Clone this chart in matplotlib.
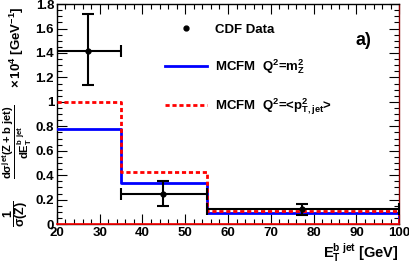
import matplotlib
matplotlib.use("Agg")
import matplotlib.pyplot as plt
import numpy as np
from matplotlib.ticker import MultipleLocator
from matplotlib.lines import Line2D

plt.rcParams['font.family'] = ['Liberation Sans']
plt.rcParams['font.weight'] = 'bold'
plt.rcParams['mathtext.fontset'] = 'custom'
plt.rcParams['mathtext.rm'] = 'Liberation Sans:bold'
plt.rcParams['mathtext.it'] = 'Liberation Sans:bold'
plt.rcParams['mathtext.bf'] = 'Liberation Sans:bold'
plt.rcParams['mathtext.sf'] = 'Liberation Sans:bold'

bin_edges = [20, 35, 55, 100]
data_x = [27.3, 44.8, 77.3]
data_y = [1.42, 0.25, 0.123]
data_err_lo = [0.28, 0.105, 0.046]
data_err_hi = [0.30, 0.10, 0.044]
mcfm_mz = [0.78, 0.335, 0.09]
mcfm_pt = [1.0, 0.43, 0.107]

W, H = 409, 273
fig = plt.figure(figsize=(W / 100, H / 100), dpi=100)
ax = fig.add_axes([0.139, 0.179, 0.837, 0.806])

edges = np.array(bin_edges)
xl = np.array(data_x) - edges[:-1]
xr = edges[1:] - np.array(data_x)

def step_pts(vals):
    xs, ys = [], []
    for i, v in enumerate(vals):
        xs += [edges[i], edges[i + 1]]
        ys += [v, v]
    xs.append(edges[-1]); ys.append(0)
    return xs, ys

bx, by = step_pts(mcfm_mz)
ax.plot(bx, by, color='#0000ff', lw=2, zorder=3)
rx, ry = step_pts(mcfm_pt)
ax.plot(rx, ry, color='#ff0000', lw=2, ls=(0, (1.5, 1)), zorder=4)
ax.plot([20, 100], [0, 0], color='#ff0000', lw=1.2, zorder=5, clip_on=False)

ax.errorbar(data_x, data_y, xerr=[xl, xr], yerr=[data_err_lo, data_err_hi],
            fmt='o', color='black', ms=3.5, lw=1.5, capsize=4, capthick=1.5,
            zorder=6)

ax.set_xlim(20, 100)
ax.set_ylim(0, 1.8)
ax.xaxis.set_major_locator(MultipleLocator(10))
ax.xaxis.set_minor_locator(MultipleLocator(2))
ax.yaxis.set_minor_locator(MultipleLocator(0.05))
ax.set_yticks([0, 0.2, 0.4, 0.6, 0.8, 1, 1.2, 1.4, 1.6, 1.8])
ax.set_yticklabels(['0', '0.2', '0.4', '0.6', '0.8', '1', '1.2', '1.4', '1.6', '1.8'])
ax.tick_params(which='both', direction='in', top=True, right=True, labelsize=9.5, pad=2)
ax.tick_params(which='major', length=7, width=0.8)
ax.tick_params(which='minor', length=3.5, width=0.8)
for lab in ax.get_xticklabels() + ax.get_yticklabels():
    lab.set_fontweight('bold')
for s in ax.spines.values():
    s.set_linewidth(1)
ax.spines['right'].set_color('#8b0000')

ax.set_xlabel(r'E$_T^{b\ jet}$ [GeV]', fontsize=10.5, fontweight='bold', loc='right', labelpad=2)

# y-axis title built from three rotated pieces
def px(x, y):
    return x / W, 1 - y / H

fig.text(*px(16, 214), r'$\dfrac{1}{\sigma(Z)}$', fontsize=9, rotation=90,
         ha='center', va='center')
fig.text(*px(17.5, 142), r'$\dfrac{d\sigma^{jet}(Z+b\ jet)}{dE_T^{b\ jet}}$', fontsize=8,
         rotation=90, ha='center', va='center')
fig.text(*px(17, 47), r'$\times\,10^4$ [GeV$^{-1}$]', fontsize=9.5, rotation=90,
         ha='center', va='center')

ax.text(0.895, 0.836, 'a)', transform=ax.transAxes, fontsize=13, fontweight='bold', ha='center', va='center')

handles = [
    Line2D([], [], color='black', marker='o', ms=3.5, ls='none'),
    Line2D([], [], color='#0000ff', lw=2),
    Line2D([], [], color='#ff0000', lw=2, ls=(0, (1.5, 1))),
]
labels = ['CDF Data', r'MCFM  Q$^2$=m$_Z^2$', r'MCFM  Q$^2$=<p$^2_{T,jet}$>']
leg = ax.legend(handles, labels, loc='upper left',
                bbox_to_anchor=(0.3, 0.935), frameon=False, fontsize=9.5,
                handlelength=3.2, handletextpad=0.6, labelspacing=1.6, borderaxespad=0)

fig.savefig('out.png', dpi=100)
